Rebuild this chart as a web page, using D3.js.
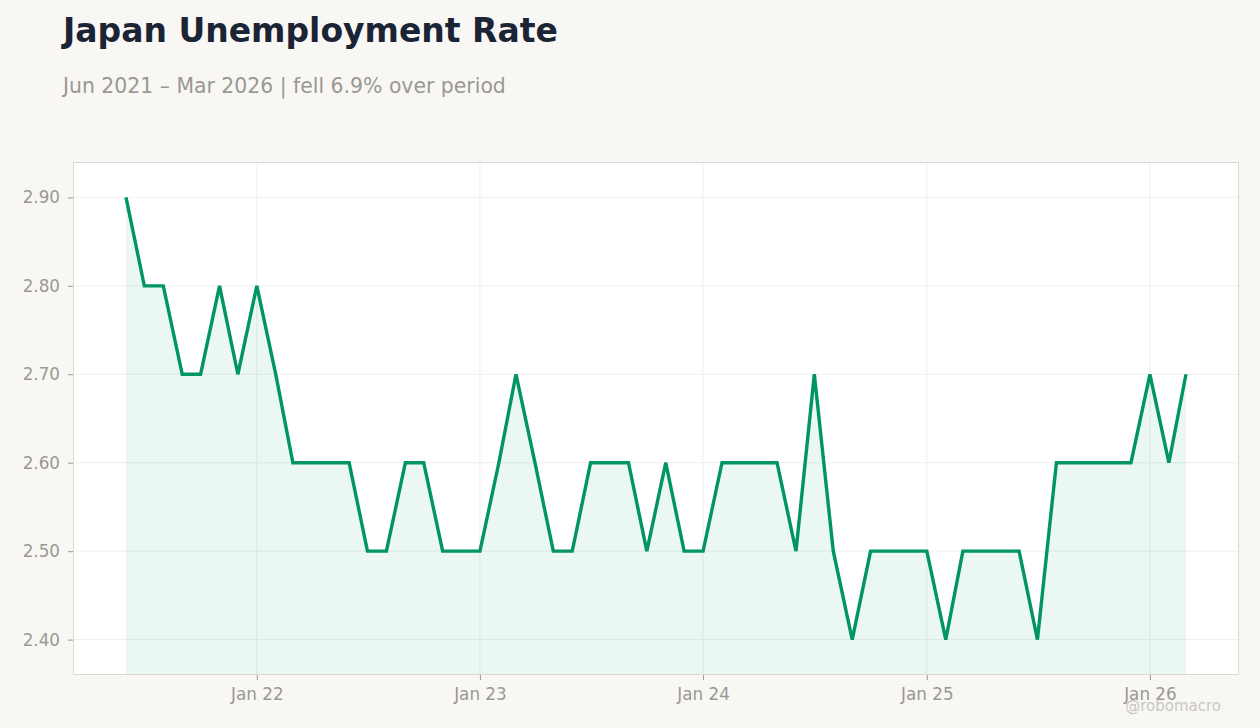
<!DOCTYPE html>
<html>
<head>
<meta charset="utf-8">
<script src="https://cdn.jsdelivr.net/npm/d3@7"></script>
<style>
  html, body { margin: 0; padding: 0; background: #f8f7f4; }
  body { font-family: "DejaVu Sans", sans-serif; }
</style>
</head>
<body>
<div id="chart"></div>
<script>
// monthly readings, Jun 2021 - Mar 2026
const startMonth = "2021-06";
const rates = [
  2.9, 2.8, 2.8, 2.7, 2.7, 2.8, 2.7,            // Jun-Dec 21
  2.8, 2.7, 2.6, 2.6, 2.6, 2.6, 2.5, 2.5, 2.6, 2.6, 2.5, 2.5, // 22
  2.5, 2.6, 2.7, 2.6, 2.5, 2.5, 2.6, 2.6, 2.6, 2.5, 2.6, 2.5, // 23
  2.5, 2.6, 2.6, 2.6, 2.6, 2.5, 2.7, 2.5, 2.4, 2.5, 2.5, 2.5, // 24
  2.5, 2.4, 2.5, 2.5, 2.5, 2.5, 2.4, 2.6, 2.6, 2.6, 2.6, 2.6, // 25
  2.7, 2.6, 2.7                                  // Jan-Mar 26
];
const yTicks = [2.4, 2.5, 2.6, 2.7, 2.8, 2.9];
const xTickLabels = ["Jan 22", "Jan 23", "Jan 24", "Jan 25", "Jan 26"];

const W = 1260, H = 728;
const margin = { top: 162, right: 21, bottom: 53, left: 73 };
const width = W - margin.left - margin.right;
const height = H - margin.top - margin.bottom;

const parseMonth = d3.timeParse("%Y-%m");
const t0 = parseMonth(startMonth);
const data = rates.map((v, i) => ({ date: d3.timeMonth.offset(t0, i), value: v }));

const svg = d3.select("#chart").append("svg")
  .attr("width", W)
  .attr("height", H);

svg.append("text")
  .attr("x", 63).attr("y", 42)
  .style("font-size", "33px").style("font-weight", "bold")
  .style("fill", "#1b2434")
  .text("Japan Unemployment Rate");

svg.append("text")
  .attr("x", 63).attr("y", 93)
  .style("font-size", "20.4px")
  .style("fill", "#9a9892")
  .text("Jun 2021 \u2013 Mar 2026 | fell 6.9% over period");

const g = svg.append("g").attr("transform", `translate(${margin.left},${margin.top})`);

// 5% padding on the time span, 8% on values
const [d0, d1] = d3.extent(data, d => d.date);
const span = d1 - d0;
const x = d3.scaleTime()
  .domain([new Date(+d0 - span * 0.05), new Date(+d1 + span * 0.05)])
  .range([0, width]);

const [v0, v1] = d3.extent(rates);
const pad = (v1 - v0) * 0.08;
const y = d3.scaleLinear()
  .domain([v0 - pad, v1 + pad])
  .range([height, 0]);

g.append("rect")
  .attr("width", width).attr("height", height)
  .style("fill", "#ffffff");

const xTickDates = xTickLabels.map(s => d3.timeParse("%b %y")(s));

// grid
g.append("g").selectAll("line").data(yTicks).enter().append("line")
  .attr("x1", 0).attr("x2", width)
  .attr("y1", d => y(d)).attr("y2", d => y(d))
  .style("stroke", "#efefef").style("stroke-width", 1);
g.append("g").selectAll("line").data(xTickDates).enter().append("line")
  .attr("x1", d => x(d)).attr("x2", d => x(d))
  .attr("y1", 0).attr("y2", height)
  .style("stroke", "#efefef").style("stroke-width", 1);

// area + line
const area = d3.area()
  .x(d => x(d.date))
  .y0(height)
  .y1(d => y(d.value));
g.append("path").datum(data)
  .attr("d", area)
  .style("fill", "#009966").style("fill-opacity", 0.08);

const line = d3.line()
  .x(d => x(d.date))
  .y(d => y(d.value));
g.append("path").datum(data)
  .attr("d", line)
  .style("fill", "none")
  .style("stroke", "#009466")
  .style("stroke-width", 3.4)
  .style("stroke-linejoin", "miter");

// frame
g.append("rect")
  .attr("x", 0.5).attr("y", 0.5)
  .attr("width", width - 1).attr("height", height - 1)
  .style("fill", "none").style("stroke", "#dcd9d4").style("stroke-width", 1);

// axes
const yAxis = g.append("g")
  .call(d3.axisLeft(y).tickValues(yTicks).tickFormat(d3.format(".2f")).tickSize(5).tickPadding(8));
const xAxis = g.append("g")
  .attr("transform", `translate(0,${height})`)
  .call(d3.axisBottom(x).tickValues(xTickDates).tickFormat((d, i) => xTickLabels[i]).tickSize(5).tickPadding(8));

[xAxis, yAxis].forEach(a => {
  a.select(".domain").remove();
  a.selectAll("line").style("stroke", "#9a9892");
  a.selectAll("text")
    .style("font-family", "DejaVu Sans, sans-serif")
    .style("font-size", "16.8px")
    .style("fill", "#9a9892");
});

svg.append("text")
  .attr("x", 1221).attr("y", 711)
  .attr("text-anchor", "end")
  .style("font-size", "15px")
  .style("fill", "#c9c7c2")
  .text("@robomacro");
</script>
</body>
</html>
